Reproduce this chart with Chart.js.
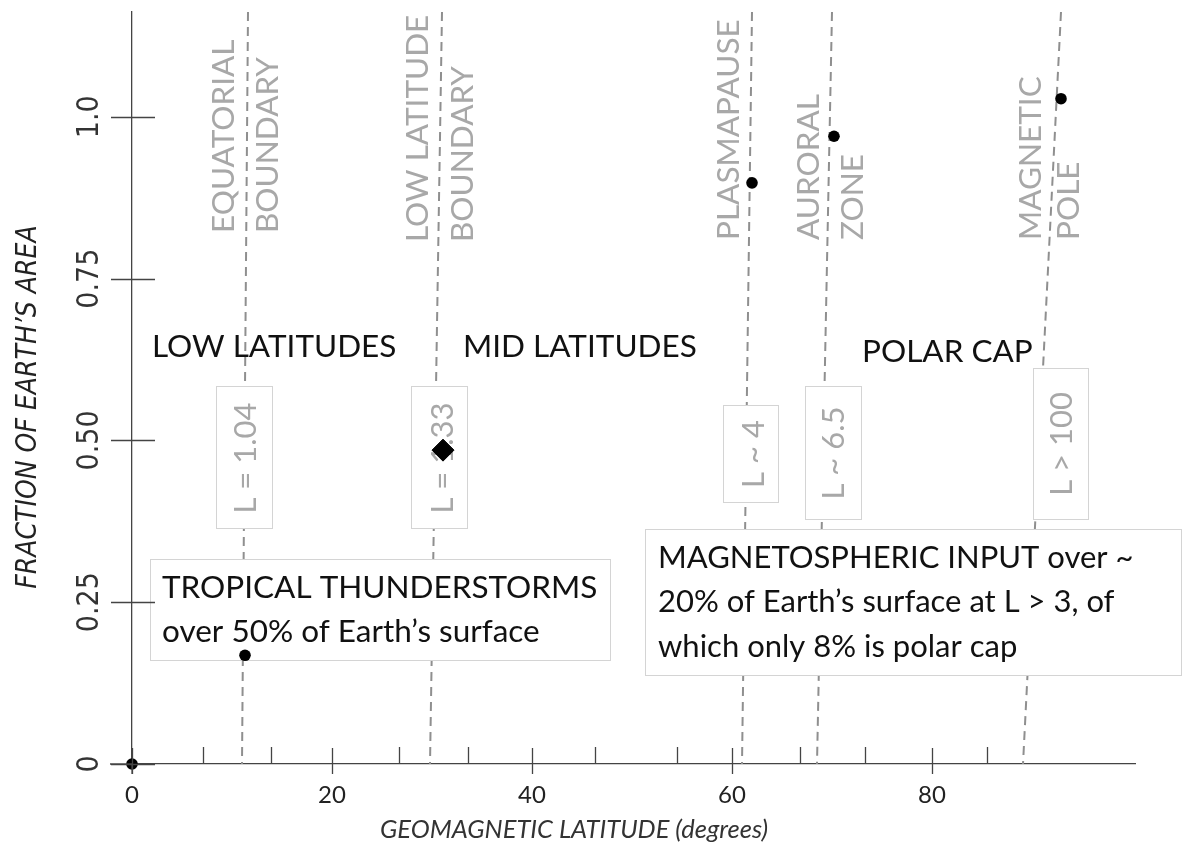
<!DOCTYPE html>
<html>
<head>
<meta charset="utf-8">
<script src="https://cdn.jsdelivr.net/npm/chart.js@4.4.1/dist/chart.umd.min.js"></script>
<style>
  html, body { margin: 0; padding: 0; background: #fff; }
</style>
</head>
<body>
<canvas id="chart" width="1182" height="846"></canvas>
<script>
// axis ticks
var xTicks = [0, 20, 40, 60, 80];
var xMinorTicks = [7.1, 13.9, 26.7, 33.6, 46.3, 54.5, 66.8, 73.3, 85.5];
var yTicks = [0, 0.25, 0.5, 0.75, 1.0];
var yTickLabels = ['0', '0.25', '0.50', '0.75', '1.0'];

// fraction of earth's area
var pointLat = [0, 11.3, 62.0, 70.2, 92.9];
var pointFrac = [0, 0.168, 0.898, 0.970, 1.028];
var diamondLat = [31.1];
var diamondFrac = [0.485];

// boundary lines (dashed), latitude at top and at bottom of plot
var boundaryTopLat = [11.6, 31.0, 62.0, 70.0, 92.9];
var boundaryBottomLat = [11.0, 29.8, 61.0, 68.5, 89.1];
var boundaryTop = 1.162;

var FONT = 'Lato, "Open Sans", sans-serif';
var NARROW = '"Liberation Sans Narrow", "DejaVu Sans Condensed", sans-serif';

// build the dashed boundary lines as one dataset with gaps
var boundaryData = [];
for (var i = 0; i < boundaryTopLat.length; i++) {
  boundaryData.push({ x: boundaryTopLat[i], y: boundaryTop });
  boundaryData.push({ x: boundaryBottomLat[i], y: 0 });
  boundaryData.push({ x: boundaryBottomLat[i], y: null });
}

function rotText(ctx, text, cx, y, capH, align) {
  ctx.save();
  ctx.translate(cx + capH / 2, y);
  ctx.rotate(-Math.PI / 2);
  ctx.textAlign = align || 'left';
  ctx.textBaseline = 'alphabetic';
  ctx.fillText(text, 0, 0);
  ctx.restore();
}

function box(ctx, x1, y1, x2, y2) {
  ctx.save();
  ctx.fillStyle = '#ffffff';
  ctx.fillRect(x1, y1, x2 - x1, y2 - y1);
  ctx.strokeStyle = '#d4d4d4';
  ctx.lineWidth = 1;
  ctx.strokeRect(x1 + 0.5, y1 + 0.5, x2 - x1, y2 - y1);
  ctx.restore();
}

var annotations = {
  id: 'annotations',
  beforeDraw: function (chart) {
    var ctx = chart.ctx;
    ctx.save();
    ctx.fillStyle = '#fff';
    ctx.fillRect(0, 0, chart.width, chart.height);
    ctx.restore();
  },
  afterDatasetDraw: function (chart, args) {
    if (args.index !== 2) return;
    var ctx = chart.ctx;
    ctx.save();

    // rotated boundary names
    ctx.fillStyle = '#a8a8a8';
    ctx.font = '31.5px ' + FONT;
    var cap = 22.5;
    rotText(ctx, 'EQUATORIAL', 223, 233, cap);
    rotText(ctx, 'BOUNDARY', 267, 233, cap);
    rotText(ctx, 'LOW LATITUDE', 417, 242, cap);
    rotText(ctx, 'BOUNDARY', 462, 242, cap);
    rotText(ctx, 'PLASMAPAUSE', 728, 240, cap);
    rotText(ctx, 'AURORAL', 808, 240, cap);
    rotText(ctx, 'ZONE', 852, 240, cap);
    rotText(ctx, 'MAGNETIC', 1030, 240, cap);
    rotText(ctx, 'POLE', 1068, 240, cap);

    // L value boxes
    box(ctx, 216, 386, 272, 528);
    box(ctx, 411, 386, 467, 528);
    box(ctx, 723, 405, 778, 502);
    box(ctx, 805, 386, 861, 519);
    box(ctx, 1033, 368, 1088, 519);
    ctx.fillStyle = '#a8a8a8';
    ctx.font = '31px ' + FONT;
    rotText(ctx, 'L = 1.04', 245, 458, 22, 'center');
    rotText(ctx, 'L = 1.33', 442, 458, 22, 'center');
    rotText(ctx, 'L ~ 4', 753, 454, 22, 'center');
    rotText(ctx, 'L ~ 6.5', 833, 453, 22, 'center');
    rotText(ctx, 'L > 100', 1061, 444, 22, 'center');

    // region names
    ctx.fillStyle = '#111';
    ctx.font = '31.5px ' + FONT;
    ctx.textAlign = 'left';
    ctx.textBaseline = 'alphabetic';
    ctx.fillText('LOW LATITUDES', 152, 357);
    ctx.fillText('MID LATITUDES', 463, 357);
    ctx.fillText('POLAR CAP', 862, 362);

    // text boxes
    box(ctx, 150, 559, 610, 660);
    box(ctx, 645, 529, 1181, 675);
    ctx.fillStyle = '#111';
    ctx.font = '31.5px ' + FONT;
    ctx.fillText('TROPICAL THUNDERSTORMS', 162, 598);
    ctx.fillText('over 50% of Earth\u2019s surface', 162, 642);
    ctx.font = '31px ' + FONT;
    ctx.fillText('MAGNETOSPHERIC INPUT over ~', 658, 568);
    ctx.fillText('20% of Earth\u2019s surface at L > 3, of', 658, 612);
    ctx.fillText('which only 8% is polar cap', 658, 657);
    ctx.restore();
  },
  afterDraw: function (chart) {
    var ctx = chart.ctx;
    var xs = chart.scales.x, ys = chart.scales.y;
    var left = chart.chartArea.left, bottom = chart.chartArea.bottom;
    ctx.save();
    ctx.strokeStyle = '#444';
    ctx.lineWidth = 1.3;
    ctx.beginPath();
    yTicks.forEach(function (v) {
      var py = Math.round(ys.getPixelForValue(v)) + 0.5;
      ctx.moveTo(left - 21, py);
      ctx.lineTo(left + 23, py);
    });
    xTicks.forEach(function (v) {
      var px = Math.round(xs.getPixelForValue(v)) + 0.5;
      ctx.moveTo(px, bottom - 16);
      ctx.lineTo(px, bottom + 10);
    });
    xMinorTicks.forEach(function (v) {
      var px = Math.round(xs.getPixelForValue(v)) + 0.5;
      ctx.moveTo(px, bottom - 17);
      ctx.lineTo(px, bottom);
    });
    // axis overhang
    ctx.moveTo(110, bottom);
    ctx.lineTo(left, bottom);
    ctx.moveTo(left, bottom);
    ctx.lineTo(left, bottom + 10);
    ctx.stroke();

    // axis titles
    ctx.fillStyle = '#222';
    ctx.font = 'italic 28px ' + NARROW;
    rotText(ctx, 'FRACTION OF EARTH\u2019S AREA', 26, 407, 20, 'center');
    ctx.fillStyle = '#333';
    ctx.font = 'italic 25.5px ' + FONT;
    ctx.textAlign = 'left';
    ctx.textBaseline = 'alphabetic';
    ctx.fillText('GEOMAGNETIC LATITUDE (degrees)', 380, 838);
    ctx.restore();
  }
};

var ctx = document.getElementById('chart');

var myChart = new Chart(ctx, {
  type: 'scatter',
  data: {
    datasets: [
      {
        label: 'points',
        data: pointLat.map(function (x, i) { return { x: x, y: pointFrac[i] }; }),
        pointStyle: 'circle',
        pointRadius: 5.8,
        backgroundColor: '#000',
        borderColor: '#000',
        borderWidth: 0,
        clip: false
      },
      {
        label: 'diamond',
        data: diamondLat.map(function (x, i) { return { x: x, y: diamondFrac[i] }; }),
        pointStyle: 'rectRot',
        pointRadius: 11,
        backgroundColor: '#000',
        borderColor: '#000',
        borderWidth: 1,
        clip: false
      },
      {
        label: 'boundaries',
        type: 'line',
        data: boundaryData,
        showLine: true,
        spanGaps: false,
        borderColor: '#8f8f8f',
        borderWidth: 2,
        borderDash: [9, 6],
        pointRadius: 0,
        fill: false
      }
    ]
  },
  options: {
    responsive: false,
    animation: false,
    devicePixelRatio: 1,
    layout: { padding: { top: 12, right: 47, left: 0, bottom: 0 } },
    plugins: {
      legend: { display: false },
      tooltip: { enabled: false }
    },
    scales: {
      x: {
        type: 'linear',
        min: 0,
        max: 100.3,
        afterBuildTicks: function (s) { s.ticks = xTicks.map(function (v) { return { value: v }; }); },
        afterFit: function (s) { s.height = 82; s.paddingLeft = 0; s.paddingRight = 0; },
        grid: { display: false, drawTicks: false },
        border: { display: true, color: '#444', width: 1.3 },
        ticks: {
          padding: 17,
          color: '#222',
          font: { family: FONT, size: 24 },
          callback: function (v) { return String(v); }
        }
      },
      y: {
        type: 'linear',
        min: 0,
        max: boundaryTop,
        afterBuildTicks: function (s) { s.ticks = yTicks.map(function (v) { return { value: v }; }); },
        afterFit: function (s) { s.width = 132; s.paddingTop = 0; s.paddingBottom = 0; },
        grid: { display: false, drawTicks: false },
        border: { display: true, color: '#444', width: 1.3 },
        ticks: {
          padding: 12,
          minRotation: 90,
          maxRotation: 90,
          crossAlign: 'center',
          color: '#333',
          font: { family: NARROW, size: 30 },
          callback: function (v, i) { return yTickLabels[i]; }
        }
      }
    }
  },
  plugins: [annotations]
});
</script>
</body>
</html>
